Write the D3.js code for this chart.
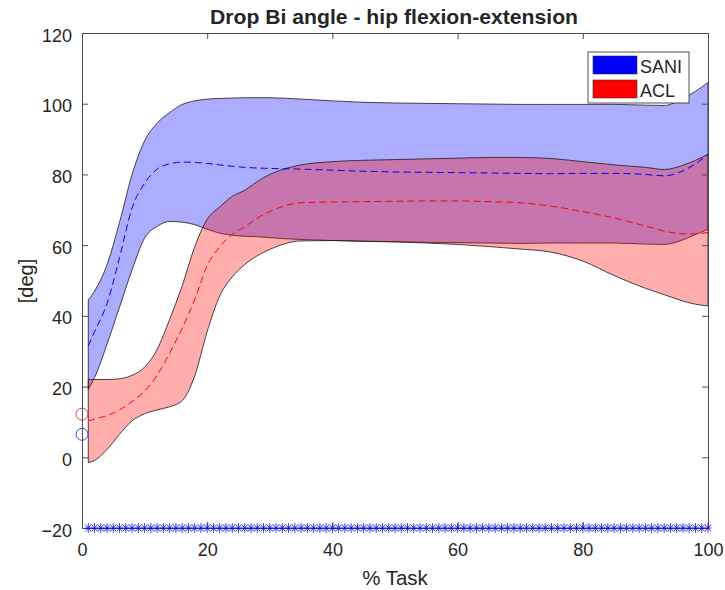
<!DOCTYPE html>
<html lang="en">
<head>
<meta charset="UTF-8">
<title>Drop Bi angle - hip flexion-extension</title>
<script src="https://d3js.org/d3.v7.min.js"></script>
<style>
  body { margin: 0; background: #fff; }
  svg text { font-family: "Liberation Sans", Arial, sans-serif; fill: #262626; }
</style>
</head>
<body>
<div id="chart"></div>
<script>
// % task samples where the curves were read
const taskPct = [1, 2, 4, 6, 8, 10, 12, 14, 16, 18, 20, 22, 24, 26, 28, 30, 35, 40, 45, 50,
                 55, 60, 65, 70, 75, 80, 85, 90, 93, 96, 98, 100];

// SANI (blue): mean +/- sd
const saniUpper = [44.5, 47, 54.5, 66.5, 80, 89.5, 94.5, 97.5, 99.8, 100.8, 101.3, 101.5, 101.6, 101.7, 101.7, 101.7,
                   101.3, 100.8, 100.4, 100.2, 100.1, 100.0, 99.9, 99.8, 99.8, 99.8, 99.8, 99.6, 99.5, 101.5, 103.5, 106];
const saniMean  = [31.5, 35.5, 43.5, 56.5, 70.5, 77.5, 81.5, 83, 83.5, 83.4, 83.1, 82.7, 82.3, 82, 81.8, 81.7,
                   81.5, 81.2, 80.9, 80.7, 80.6, 80.5, 80.4, 80.3, 80.2, 80.3, 80.3, 80, 79.6, 81, 83, 85.7];
const saniLower = [19.2, 22.5, 32, 42.5, 53, 62, 65.3, 66.7, 66.5, 65.8, 64.5, 63.4, 62.8, 62.5, 62.4, 62.1,
                   61.6, 61.3, 61.1, 61, 60.8, 60.7, 60.6, 60.5, 60.6, 60.6, 60.6, 60.3, 60.2, 61.5, 63, 64.5];

// ACL (red): mean +/- sd
const aclUpper = [22, 22, 22, 22.2, 23.2, 25.5, 30.5, 39, 48.5, 59.5, 67.3, 70.8, 73.8, 75.5, 78, 80,
                  82.7, 83.6, 84, 84.2, 84.4, 84.6, 84.8, 84.8, 84.5, 83.6, 82.7, 82, 81.4, 82.6, 84, 85.7];
const aclMean  = [10.3, 10.8, 11.8, 13.4, 15.8, 18.7, 23.2, 29.5, 36.5, 44.6, 54.2, 59.5, 63, 65.2, 67.7, 69.5,
                  72, 72.2, 72.3, 72.4, 72.5, 72.5, 72.3, 72, 71, 69.5, 67.7, 65.4, 64, 63.2, 63.2, 63.6];
const aclLower = [-1.5, -0.9, 2.2, 6.5, 10.3, 12.3, 13.4, 14.3, 16, 23, 35.6, 45.6, 51, 54.5, 57, 58.8,
                  61.2, 61.3, 61.1, 60.9, 60.6, 60.2, 59.6, 58.9, 58, 55.5, 51.4, 47.8, 46, 44.2, 43.3, 42.8];

// starting values (open circles at 0 %)
const startPct = 0;
const saniStart = 6.5;
const aclStart = 12.2;

// samples marked at the bottom of the plot
const sigPct = [1, 2, 3, 4, 5, 6, 7, 8, 9, 10, 11, 12, 13, 14, 15, 16, 17, 18, 19, 20,
                21, 22, 23, 24, 25, 26, 27, 28, 29, 30, 31, 32, 33, 34, 35, 36, 37, 38, 39, 40,
                41, 42, 43, 44, 45, 46, 47, 48, 49, 50, 51, 52, 53, 54, 55, 56, 57, 58, 59, 60,
                61, 62, 63, 64, 65, 66, 67, 68, 69, 70, 71, 72, 73, 74, 75, 76, 77, 78, 79, 80,
                81, 82, 83, 84, 85, 86, 87, 88, 89, 90, 91, 92, 93, 94, 95, 96, 97, 98, 99, 100];
const sigLevel = -20;

const xTicks = [0, 20, 40, 60, 80, 100];
const yTicks = [-20, 0, 20, 40, 60, 80, 100, 120];
const groups = ["SANI", "ACL"];

const width = 725, height = 590;
const mLeft = 82, mRight = 708, mTop = 33, mBottom = 528;

const svg = d3.select("#chart").append("svg")
    .attr("width", width)
    .attr("height", height)
    .style("display", "block");

svg.append("rect").attr("width", width).attr("height", height).attr("fill", "#fff");

const x = d3.scaleLinear().domain([0, 100]).range([mLeft, mRight]);
const y = d3.scaleLinear().domain([-20, 120]).range([mBottom, mTop]);

// shaded bands
function band(lower, upper, color) {
    const area = d3.area()
        .x((d, i) => x(taskPct[i]))
        .y0(d => y(d))
        .y1((d, i) => y(upper[i]))
        .curve(d3.curveMonotoneX);
    svg.append("path")
        .attr("d", area(lower))
        .attr("fill", color)
        .attr("fill-opacity", 0.32)
        .attr("stroke", "#1a1a1a")
        .attr("stroke-width", 0.8);
}
band(saniLower, saniUpper, "#0000ff");
band(aclLower, aclUpper, "#ff0000");

// dashed mean curves
const line = d3.line()
    .x((d, i) => x(taskPct[i]))
    .y(d => y(d))
    .curve(d3.curveMonotoneX);

svg.append("path").attr("d", line(saniMean))
    .attr("fill", "none").attr("stroke", "#0000ff")
    .attr("stroke-width", 1).attr("stroke-dasharray", "7,4");
svg.append("path").attr("d", line(aclMean))
    .attr("fill", "none").attr("stroke", "#ff0000")
    .attr("stroke-width", 1).attr("stroke-dasharray", "7,4");

// start markers
svg.append("circle").attr("cx", x(startPct)).attr("cy", y(aclStart)).attr("r", 6)
    .attr("fill", "none").attr("stroke", "#c83232").attr("stroke-width", 0.9);
svg.append("circle").attr("cx", x(startPct)).attr("cy", y(saniStart)).attr("r", 6)
    .attr("fill", "none").attr("stroke", "#3232c8").attr("stroke-width", 0.9);

// axes box with inward ticks
const yAxis = d3.axisLeft(y).tickValues(yTicks).tickSizeInner(-6).tickSizeOuter(0).tickPadding(10);
const xAxis = d3.axisBottom(x).tickValues(xTicks).tickSizeInner(-6).tickSizeOuter(0).tickPadding(15);

const gy = svg.append("g").attr("transform", `translate(${mLeft},0)`).call(yAxis);
const gx = svg.append("g").attr("transform", `translate(0,${mBottom})`).call(xAxis);
svg.append("g").attr("transform", `translate(${mRight},0)`)
    .call(d3.axisRight(y).tickValues(yTicks).tickSizeInner(-6).tickSizeOuter(0).tickFormat(""));
svg.append("g").attr("transform", `translate(0,${mTop})`)
    .call(d3.axisTop(x).tickValues(xTicks).tickSizeInner(-6).tickSizeOuter(0).tickFormat(""));

svg.selectAll(".domain, .tick line").attr("stroke", "#4d4d4d").attr("stroke-width", 1);
svg.selectAll(".tick text").attr("font-size", 18).attr("fill", "#262626")
    .attr("font-family", '"Liberation Sans", Arial, sans-serif');
gy.selectAll(".tick text").attr("dy", "0.45em");

// significance markers
const star = "M-3.6,0H3.6M0,-4.8V4.8M-3,-3.4L3,3.4M-3,3.4L3,-3.4";
svg.append("g").selectAll("path")
    .data(sigPct)
    .enter().append("path")
    .attr("transform", d => `translate(${x(d)},${y(sigLevel)})`)
    .attr("d", star)
    .attr("fill", "none")
    .attr("stroke", "#0000ff")
    .attr("stroke-width", 0.8);

// title and labels
svg.append("text").attr("x", 394).attr("y", 24)
    .attr("text-anchor", "middle").attr("font-size", 20).attr("font-weight", "bold")
    .attr("fill", "#000")
    .attr("textLength", 368).attr("lengthAdjust", "spacingAndGlyphs")
    .text("Drop Bi angle - hip flexion-extension");
svg.append("text").attr("x", 395).attr("y", 585)
    .attr("text-anchor", "middle").attr("font-size", 20.5)
    .text("% Task");
svg.append("text").attr("transform", "translate(33,281) rotate(-90)")
    .attr("text-anchor", "middle").attr("font-size", 20)
    .text("[deg]");

// legend
const lg = svg.append("g").attr("transform", "translate(588,52)");
lg.append("rect").attr("width", 101).attr("height", 51)
    .attr("fill", "#fff").attr("stroke", "#262626").attr("stroke-width", 0.8);
lg.selectAll("rect.sw")
    .data(groups)
    .enter().append("rect")
    .attr("class", "sw")
    .attr("x", 5).attr("y", (d, i) => 4 + i * 24)
    .attr("width", 44).attr("height", 18)
    .attr("fill", (d, i) => i === 0 ? "#0000ff" : "#ff0000")
    .attr("stroke", "#333").attr("stroke-width", 0.6);
lg.selectAll("text")
    .data(groups)
    .enter().append("text")
    .attr("x", 52).attr("y", (d, i) => 21 + i * 24)
    .attr("font-size", 18)
    .text(d => d);
</script>
</body>
</html>
